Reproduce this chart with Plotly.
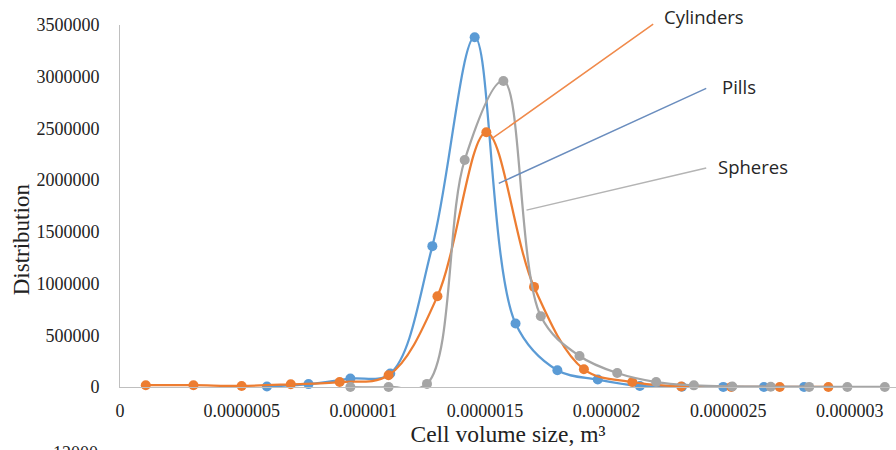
import plotly.graph_objects as go

# ---- data ----
pills_x = [0.604e-6, 0.775e-6, 0.947e-6, 1.111e-6, 1.284e-6, 1.458e-6, 1.626e-6,
           1.798e-6, 1.964e-6, 2.137e-6, 2.310e-6, 2.480e-6, 2.647e-6, 2.812e-6]
pills_y = [5000, 28000, 81000, 130000, 1362000, 3382000, 614000,
           162000, 72000, 10000, 3000, 1000, 500, 200]

cyl_x = [0.106e-6, 0.302e-6, 0.500e-6, 0.702e-6, 0.903e-6, 1.104e-6, 1.305e-6, 1.506e-6,
         1.702e-6, 1.907e-6, 2.106e-6, 2.307e-6, 2.513e-6, 2.712e-6, 2.912e-6]
cyl_y = [17000, 17000, 10000, 26000, 48000, 113000, 878000, 2463000,
         968000, 171000, 48000, 5000, 1000, 500, 200]

sph_x = [0.947e-6, 1.104e-6, 1.262e-6, 1.417e-6, 1.576e-6, 1.730e-6, 1.889e-6, 2.044e-6,
         2.204e-6, 2.359e-6, 2.517e-6, 2.675e-6, 2.833e-6, 2.990e-6, 3.144e-6]
sph_y = [0, 0, 30000, 2195000, 2959000, 684000, 300000, 135000,
         48000, 16000, 5000, 2000, 1000, 500, 200]

x_tickvals = [0, 0.5e-6, 1.0e-6, 1.5e-6, 2.0e-6, 2.5e-6, 3.0e-6]
x_ticktext = ["0", "0.0000005", "0.000001", "0.0000015", "0.000002", "0.0000025", "0.000003"]

series_names = ["Pills", "Cylinders", "Spheres"]
series_colors = ["#5B9BD5", "#ED7D31", "#A5A5A5"]
leader_colors = ["#6A8DBE", "#F08A4B", "#B4B4B4"]
# leader line: (head x, head y) on curve, (tail x, tail y) at label, label position
leader_head_x = [1.557e-6, 1.527e-6, 1.671e-6]
leader_head_y = [1969000, 2398000, 1710000]
leader_tail_x = [2.416e-6, 2.198e-6, 2.416e-6]
leader_tail_y = [2894000, 3518000, 2120000]
label_x = [2.466e-6, 2.228e-6, 2.450e-6]
label_y = [2904000, 3579000, 2130000]

X_MAX = 3.19e-6
Y_MAX = 3500000
PLOT_W, PLOT_H = 776, 362

serif = "Liberation Serif, Times New Roman, serif"
sans = "Open Sans, Noto Sans, sans-serif"

fig = go.Figure()
for name, xs, ys, col in zip(series_names, [pills_x, cyl_x, sph_x],
                             [pills_y, cyl_y, sph_y], series_colors):
    fig.add_trace(go.Scatter(
        x=xs, y=ys, name=name, mode="lines+markers",
        line=dict(color=col, width=2.25, shape="spline", smoothing=1.0),
        marker=dict(color=col, size=10),
        cliponaxis=False,
    ))

annotations = []
for i in range(3):
    annotations.append(dict(
        x=leader_head_x[i] / X_MAX, y=leader_head_y[i] / Y_MAX, xref="paper", yref="paper",
        ax=(leader_tail_x[i] - leader_head_x[i]) / X_MAX * PLOT_W,
        ay=-(leader_tail_y[i] - leader_head_y[i]) / Y_MAX * PLOT_H,
        text="", showarrow=True, arrowhead=0, arrowwidth=1.5,
        arrowcolor=leader_colors[i], standoff=0, startstandoff=0,
    ))
    annotations.append(dict(
        x=label_x[i] / X_MAX, y=label_y[i] / Y_MAX, xref="paper", yref="paper",
        text=series_names[i], showarrow=False, xanchor="left", yanchor="middle",
        font=dict(family=sans, size=18.5, color="#262626"),
    ))

# y axis title (placed like the reference, below the centre)
annotations.append(dict(
    x=-0.1276, y=0.408, xref="paper", yref="paper", text="Distribution",
    showarrow=False, textangle=-90, xanchor="center", yanchor="middle",
    font=dict(family=serif, size=23, color="#222222"),
))

# partially visible label from a chart below
annotations.append(dict(
    x=-0.026, y=-0.150, xref="paper", yref="paper", text="12000",
    showarrow=False, xanchor="right", yanchor="top",
    font=dict(family=serif, size=18, color="#222222"),
))

fig.update_layout(
    width=896, height=450,
    margin=dict(l=120, r=0, t=25, b=63, pad=0),
    paper_bgcolor="white", plot_bgcolor="white",
    showlegend=False, hovermode=False,
    annotations=annotations,
    xaxis=dict(
        range=[0, X_MAX], tickvals=x_tickvals, ticktext=x_ticktext, automargin=False,
        showgrid=False, zeroline=False, showline=True, linecolor="#BFBFBF", linewidth=1,
        ticks="", ticklabelstandoff=7,
        tickfont=dict(family=serif, size=18, color="#222222"),
        title=dict(text="Cell volume size, m³", standoff=5,
                   font=dict(family=serif, size=23.5, color="#222222")),
    ),
    yaxis=dict(
        range=[0, Y_MAX], dtick=500000, tickformat="d", automargin=False,
        showgrid=False, zeroline=False, showline=True, linecolor="#BFBFBF", linewidth=1,
        ticks="", ticklabelstandoff=16,
        tickfont=dict(family=serif, size=18, color="#222222"),
    ),
)

fig.write_html("out.html", config={"displayModeBar": False},
               post_script="document.body.style.margin='0';document.body.style.overflow='hidden';")
